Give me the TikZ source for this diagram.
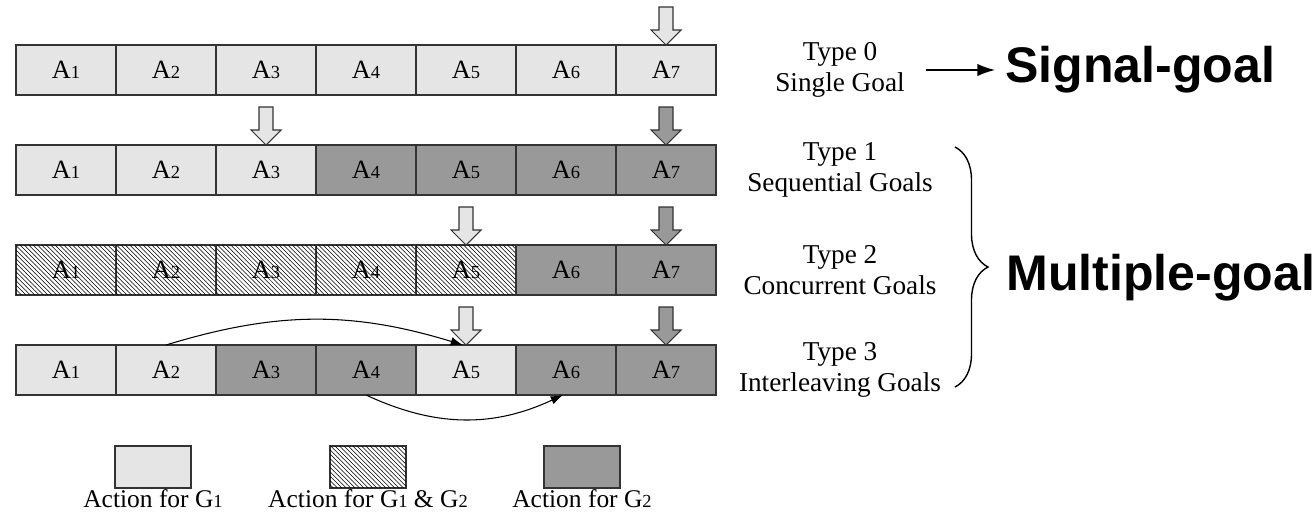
\documentclass[tikz,border=0pt]{standalone}
\usepackage{fontspec}
\setmainfont{Liberation Serif}
\newfontfamily\headfont{Liberation Sans}
\usepackage{tikz}
\usetikzlibrary{shapes,arrows,arrows.meta,positioning,calc,patterns.meta,decorations.pathreplacing}

\tikzdeclarepattern{
  name=densehatch,
  type=uncolored,
  bounding box={(-0.1pt,-0.1pt) and (2.6pt,2.6pt)},
  tile size={(2.5pt,2.5pt)},
  code={\draw[line width=0.3pt] (-0.1pt,2.6pt) -- (2.6pt,-0.1pt);}
}

\newcommand{\idx}[1]{{\fontsize{10.5pt}{10.5pt}\selectfont #1}}
% block arrow pointing down onto a cell
\newcommand{\goalarrow}[2]{%
  \draw[#2] (#1.north) -- ++(-15,15) -- ++(8,0) -- ++(0,23) -- ++(14,0) -- ++(0,-23) -- ++(8,0) -- cycle;}

\begin{document}
\begin{tikzpicture}[x=0.02cm,y=0.02cm]
  \tikzstyle{cell} = [rectangle, draw=black!80, line width=0.7pt, minimum width=2cm, minimum height=1cm, inner sep=0pt, outer sep=0pt, font=\fontsize{15pt}{16pt}\selectfont]
  \tikzstyle{g1} = [fill=black!10]
  \tikzstyle{g2} = [fill=black!40]
  \tikzstyle{both} = [fill=white, postaction={pattern=densehatch, pattern color=black}]
  \tikzstyle{typelabel} = [align=center, font=\fontsize{15.5pt}{17.5pt}\selectfont]
  \tikzstyle{bigtext} = [font=\headfont\bfseries\fontsize{28.5pt}{30pt}\selectfont, inner sep=0pt]
  \tikzstyle{legendbox} = [rectangle, draw=black!80, line width=0.7pt, minimum width=1.52cm, minimum height=0.84cm, inner sep=0pt, outer sep=0pt]
  \tikzstyle{legendtext} = [font=\fontsize{14.5pt}{16pt}\selectfont, inner sep=0.5pt]
  \tikzstyle{line} = [draw, line width=0.8pt, -{Latex[length=10pt,width=7pt]}]
  \tikzstyle{jump} = [draw, line width=0.6pt, -{Latex[length=7pt,width=5pt]}]
  \tikzstyle{lightarr} = [fill=black!10, draw=black!80, line width=0.6pt]
  \tikzstyle{darkarr} = [fill=black!40, draw=black!80, line width=0.6pt]

  \useasboundingbox (0,0) rectangle (1316,515);

  % the four action sequences
  \foreach \i in {1,...,7}
    \node[cell, g1] (r0c\i) at ({66+100*(\i-1)},445) {A\idx{\i}};
  \foreach \i/\s in {1/g1,2/g1,3/g1,4/g2,5/g2,6/g2,7/g2}
    \node[cell, \s] (r1c\i) at ({66+100*(\i-1)},345) {A\idx{\i}};
  \foreach \i/\s in {1/both,2/both,3/both,4/both,5/both,6/g2,7/g2}
    \node[cell, \s] (r2c\i) at ({66+100*(\i-1)},245) {A\idx{\i}};
  \foreach \i/\s in {1/g1,2/g1,3/g2,4/g2,5/g1,6/g2,7/g2}
    \node[cell, \s] (r3c\i) at ({66+100*(\i-1)},145) {A\idx{\i}};

  % goal arrows
  \goalarrow{r0c7}{lightarr}
  \goalarrow{r1c3}{lightarr}
  \goalarrow{r1c7}{darkarr}
  \goalarrow{r2c5}{lightarr}
  \goalarrow{r2c7}{darkarr}
  \goalarrow{r3c5}{lightarr}
  \goalarrow{r3c7}{darkarr}

  % interleaving jumps
  \draw[jump] (r3c2.north) to[bend left=17] ([xshift=-0.06cm]r3c5.north);
  \draw[jump] (r3c4.south) to[bend right=25] ([xshift=-0.06cm]r3c6.south);

  % goal types
  \node[typelabel] (t0) at (840,445) {Type 0\\Single Goal};
  \node[typelabel] (t1) at (840,345) {Type 1\\Sequential Goals};
  \node[typelabel] (t2) at (840,245) {Type 2\\Concurrent Goals};
  \node[typelabel] (t3) at (840,145) {Type 3\\Interleaving Goals};

  \node[bigtext, anchor=base west] (single) at (1005,433) {Signal-goal};
  \node[bigtext, anchor=base west] (multi) at (1006,225) {Multiple-goal};

  \draw[line] ([xshift=0.3cm]t0.east) -- ([xshift=-0.2cm]t0.east -| single.west);

  \coordinate (btop) at (955,368);
  \coordinate (bbot) at (955,128);
  \draw[line width=0.8pt, decorate, decoration={brace, amplitude=0.66cm}] (btop) -- (bbot);

  % legend
  \node[legendbox, g1] (lg1) at (153,48) {};
  \node[legendbox, both] (lg12) at (368,48) {};
  \node[legendbox, g2] (lg2) at (582,48) {};
  \node[legendtext, below=0pt of lg1] {Action for G\idx{1}};
  \node[legendtext, below=0pt of lg12] {Action for G\idx{1} \& G\idx{2}};
  \node[legendtext, below=0pt of lg2] {Action for G\idx{2}};
\end{tikzpicture}
\end{document}
